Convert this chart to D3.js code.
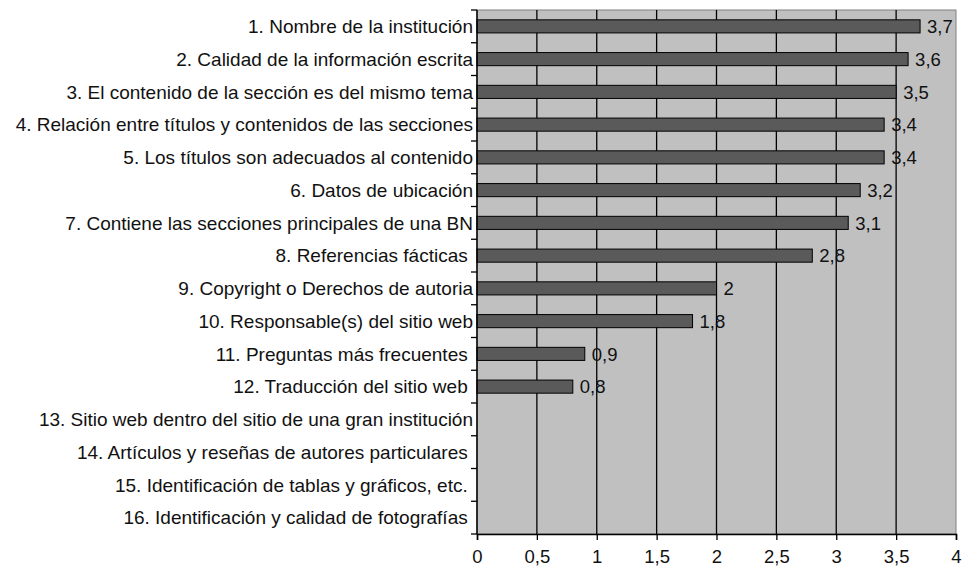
<!DOCTYPE html>
<html>
<head>
<meta charset="utf-8">
<script src="https://cdn.jsdelivr.net/npm/d3@7"></script>
<style>
  body { margin: 0; background: #fff; }
  svg text { font-family: "Liberation Sans", Arial, sans-serif; fill: #111; }
</style>
</head>
<body>
<svg id="chart" width="962" height="568"></svg>
<script>
// datos
var categories = [
  "1. Nombre de la institución",
  "2. Calidad de la información escrita",
  "3. El contenido de la sección es del mismo tema",
  "4. Relación entre títulos y contenidos de las secciones",
  "5. Los títulos son adecuados al contenido",
  "6. Datos de ubicación",
  "7. Contiene las secciones principales de una BN",
  "8. Referencias fácticas ",
  "9. Copyright o Derechos de autoria",
  "10. Responsable(s) del sitio web",
  "11. Preguntas más frecuentes ",
  "12. Traducción del sitio web ",
  "13. Sitio web dentro del sitio de una gran institución",
  "14. Artículos y reseñas de autores particulares ",
  "15. Identificación de tablas y gráficos, etc. ",
  "16. Identificación y calidad de fotografías "
];
var values = [3.7, 3.6, 3.5, 3.4, 3.4, 3.2, 3.1, 2.8, 2, 1.8, 0.9, 0.8, null, null, null, null];
var xTicks = [0, 0.5, 1, 1.5, 2, 2.5, 3, 3.5, 4];

var svg = d3.select("#chart"),
    margin = {top: 10, right: 6, bottom: 34, left: 477},
    width = +svg.attr("width") - margin.left - margin.right,
    height = +svg.attr("height") - margin.top - margin.bottom,
    g = svg.append("g").attr("transform", "translate(" + margin.left + "," + margin.top + ")");

var fmt = function(d) { return String(d).replace(".", ","); };

var x = d3.scaleLinear().domain([0, 4]).range([0, width]);
var y = d3.scaleBand().domain(categories).range([0, height]).paddingInner(0.6).paddingOuter(0.3);

// fondo del área de trazado
g.append("rect")
    .attr("width", width).attr("height", height)
    .attr("fill", "#c0c0c0")
    .attr("stroke", "#808080");

// líneas de cuadrícula
g.selectAll(".grid")
    .data(xTicks.slice(1, -1))
    .enter().append("line")
    .attr("x1", function(d) { return x(d); })
    .attr("x2", function(d) { return x(d); })
    .attr("y1", 0).attr("y2", height)
    .attr("stroke", "#000").attr("stroke-width", 1.3);

// barras
var data = categories.map(function(c, i) { return {cat: c, value: values[i]}; })
  .filter(function(d) { return d.value != null; });

g.selectAll(".bar")
    .data(data)
    .enter().append("rect")
    .attr("x", 0)
    .attr("y", function(d) { return y(d.cat); })
    .attr("width", function(d) { return x(d.value); })
    .attr("height", y.bandwidth())
    .attr("fill", "#5a5a5a")
    .attr("stroke", "#000").attr("stroke-width", 1);

g.selectAll(".val")
    .data(data)
    .enter().append("text")
    .attr("x", function(d) { return x(d.value) + 7; })
    .attr("y", function(d) { return y(d.cat) + y.bandwidth() / 2; })
    .attr("dy", "0.36em")
    .style("font-size", "18.5px")
    .text(function(d) { return fmt(d.value); });

// eje X
var xAxis = g.append("g")
    .attr("transform", "translate(0," + height + ")")
    .call(d3.axisBottom(x).tickValues(xTicks).tickFormat(fmt).tickSize(6).tickPadding(10));
xAxis.selectAll("text").style("font-size", "18.5px");
xAxis.select(".domain").attr("stroke-width", 1.5);
xAxis.selectAll(".tick line").attr("stroke-width", 1.3);

// eje Y
var yAxis = g.append("g");
yAxis.append("line")
    .attr("x1", 0).attr("x2", 0).attr("y1", 0).attr("y2", height)
    .attr("stroke", "#000").attr("stroke-width", 1.5);
yAxis.selectAll(".ytick")
    .data(d3.range(categories.length + 1))
    .enter().append("line")
    .attr("x1", -6).attr("x2", 0)
    .attr("y1", function(i) { return i * height / categories.length; })
    .attr("y2", function(i) { return i * height / categories.length; })
    .attr("stroke", "#000").attr("stroke-width", 1.3);

yAxis.selectAll(".ylab")
    .data(categories)
    .enter().append("text")
    .attr("x", -4)
    .attr("y", function(d) { return y(d) + y.bandwidth() / 2; })
    .attr("dy", "0.36em")
    .attr("text-anchor", "end")
    .style("font-size", "19px")
    .style("white-space", "pre")
    .text(function(d) { return d; });
</script>
</body>
</html>
